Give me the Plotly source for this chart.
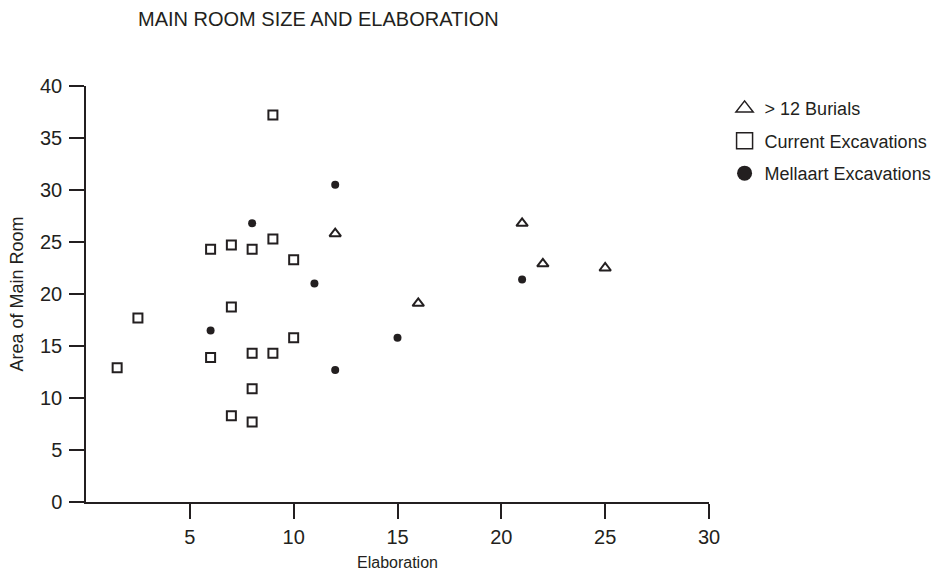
import plotly.graph_objects as go

# Data
burials_x = [12, 16, 21, 22, 25]
burials_y = [25.8, 19.1, 26.8, 22.9, 22.5]

current_x = [1.5, 2.5, 6, 6, 7, 7, 7, 8, 8, 8, 8, 9, 9, 9, 10, 10]
current_y = [12.9, 17.7, 13.9, 24.3, 8.3, 18.75, 24.7, 7.7, 10.9, 14.3, 24.3, 37.2, 25.3, 14.3, 23.3, 15.8]

mellaart_x = [6, 8, 11, 12, 12, 15, 21]
mellaart_y = [16.5, 26.8, 21.0, 30.5, 12.7, 15.8, 21.4]

x_ticks = [5, 10, 15, 20, 25, 30]
y_ticks = [0, 5, 10, 15, 20, 25, 30, 35, 40]

INK = "#231f20"
FONT = "Liberation Sans, Arial, Helvetica, sans-serif"

fig = go.Figure()

fig.add_trace(go.Scatter(x=burials_x, y=burials_y, mode="markers", showlegend=False,
                         marker=dict(symbol="triangle-up-open", size=10, color=INK,
                                     line=dict(width=2, color=INK))))
fig.add_trace(go.Scatter(x=current_x, y=current_y, mode="markers", showlegend=False,
                         marker=dict(symbol="square-open", size=9, color=INK,
                                     line=dict(width=2, color=INK))))
fig.add_trace(go.Scatter(x=mellaart_x, y=mellaart_y, mode="markers", showlegend=False,
                         marker=dict(symbol="circle", size=8, color=INK)))

# legend entries
fig.add_trace(go.Scatter(x=[None], y=[None], mode="markers", name="&gt; 12 Burials",
                         legendgroup="a",
                         marker=dict(symbol="triangle-up-open", size=15, color=INK,
                                     line=dict(width=1.5, color=INK))))
fig.add_trace(go.Scatter(x=[None], y=[None], mode="markers", name="Current Excavations",
                         legendgroup="b",
                         marker=dict(symbol="square-open", size=16, color=INK,
                                     line=dict(width=1.5, color=INK))))
fig.add_trace(go.Scatter(x=[None], y=[None], mode="markers", name="Mellaart Excavations",
                         legendgroup="c",
                         marker=dict(symbol="circle", size=15, color=INK)))

fig.update_layout(
    width=938, height=581,
    margin=dict(l=86, r=229, t=86, b=79, autoexpand=False),
    paper_bgcolor="white", plot_bgcolor="white",
    font=dict(family=FONT, color=INK, size=16),
    title=dict(text="MAIN ROOM SIZE AND ELABORATION", x=138/938, xanchor="left",
               xref="container", y=0.98, yanchor="top", yref="container",
               font=dict(size=20, color=INK)),
    showlegend=True,
    legend=dict(x=1.025, xanchor="left", y=0.99, yanchor="top", itemsizing="trace",
                tracegroupgap=6, font=dict(size=18, color=INK),
                bgcolor="rgba(0,0,0,0)"),
    xaxis=dict(range=[0, 30], tickvals=x_ticks, showgrid=False, zeroline=False,
               showline=True, linecolor=INK, linewidth=1.5, ticks="outside",
               ticklen=15, tickwidth=1.5, tickcolor=INK, ticklabelstandoff=1,
               tickfont=dict(size=20), automargin=False,
               title=dict(text="Elaboration", font=dict(size=16), standoff=10),
               fixedrange=True),
    yaxis=dict(range=[0, 40], tickvals=y_ticks, showgrid=False, zeroline=False,
               showline=True, linecolor=INK, linewidth=1.5, ticks="outside",
               ticklen=15, tickwidth=1.5, tickcolor=INK, ticklabelstandoff=3,
               tickfont=dict(size=20), automargin=False,
               title=dict(text="Area of Main Room", font=dict(size=18), standoff=12),
               fixedrange=True),
)

fig.write_html("out.html")
